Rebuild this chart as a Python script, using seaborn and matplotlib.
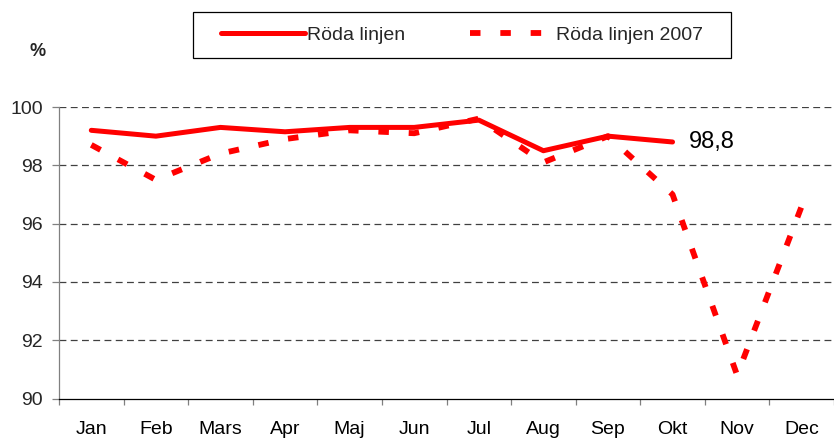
import numpy as np
import pandas as pd
import matplotlib
matplotlib.use("Agg")
import matplotlib.pyplot as plt
from matplotlib.patches import Rectangle
import seaborn as sns

months = ["Jan", "Feb", "Mars", "Apr", "Maj", "Jun", "Jul", "Aug", "Sep", "Okt", "Nov", "Dec"]
roda_linjen = [99.2, 99.0, 99.3, 99.15, 99.3, 99.3, 99.55, 98.5, 99.0, 98.8]
roda_linjen_2007 = [98.7, 97.5, 98.4, 98.9, 99.2, 99.1, 99.6, 98.1, 99.0, 97.0, 90.8, 96.6]
yticks = [90, 92, 94, 96, 98, 100]
last_label = "98,8"

sns.set_theme(style="white")
plt.rcParams['font.family'] = ['Liberation Sans', 'DejaVu Sans']

df1 = pd.DataFrame({"x": np.arange(len(roda_linjen)), "y": roda_linjen})
df2 = pd.DataFrame({"x": np.arange(len(roda_linjen_2007)), "y": roda_linjen_2007})

fig = plt.figure(figsize=(8.34, 4.41), dpi=100)
ax = fig.add_axes([59 / 834, 1 - 398.5 / 441, 1 - 59 / 834, (398.5 - 107) / 441])

for yv in yticks[1:]:
    ax.axhline(yv, color="#404040", lw=0.9, ls=(0, (5.5, 3.5)), zorder=1)

sns.lineplot(data=df2, x="x", y="y", ax=ax, color="#ff0000", lw=4.2,
             label="Röda linjen 2007", zorder=3)
ax.lines[-1].set_dashes((1.8, 3.4))
ax.lines[-1].set_dash_capstyle("butt")
sns.lineplot(data=df1, x="x", y="y", ax=ax, color="#ff0000", lw=3.6,
             label="Röda linjen", zorder=4)
ax.lines[-1].set_solid_capstyle("round")

ax.set_xlim(-0.5, 11.42)
ax.set_ylim(90, 100)
ax.set_yticks(yticks)
ax.set_yticklabels([str(v) for v in yticks], fontsize=14)
ax.set_xticks(np.arange(len(months)))
ax.set_xticklabels(months, fontsize=14)
ax.set_xticks(np.arange(-0.5, 11.6, 1), minor=True)
ax.tick_params(axis="x", which="major", length=0, pad=16, colors="black")
ax.tick_params(axis="x", which="minor", length=4, width=0.9, direction="out", color="#808080", bottom=True)
ax.tick_params(axis="y", which="major", length=5, width=0.9, direction="out", color="#808080", left=True, pad=6.5)
ax.set_xlabel("")
ax.set_ylabel("")
for s in ["top", "right"]:
    ax.spines[s].set_visible(False)
ax.spines["left"].set_color("#808080")
ax.spines["bottom"].set_color("black")
for s in ["left", "bottom"]:
    ax.spines[s].set_linewidth(0.9)

ax.annotate(last_label, xy=(len(roda_linjen) - 1, roda_linjen[-1]), xytext=(12, 0),
            textcoords="offset points", fontsize=17, va="center", ha="left", color="black")

fig.text(38 / 834, 1 - 52 / 441, "%", fontsize=13, fontweight="bold", ha="center", va="center")

# legend frame
fig.patches.append(Rectangle((193 / 834, 1 - 58 / 441), (731 - 193) / 834, 46 / 441,
                             transform=fig.transFigure, fill=False, edgecolor="black",
                             lw=0.9, zorder=5))

h, l = ax.get_legend_handles_labels()
order = [l.index("Röda linjen"), l.index("Röda linjen 2007")]
leg = ax.legend([h[i] for i in order], [l[i] for i in order], ncol=2,
                loc="center", bbox_to_anchor=(462 / 834, 1 - 35 / 441),
                bbox_transform=fig.transFigure, fontsize=14, frameon=False,
                handlelength=4.3, handletextpad=0.12, columnspacing=3.3, borderpad=0.3)

fig.savefig("out.png", dpi=100)
